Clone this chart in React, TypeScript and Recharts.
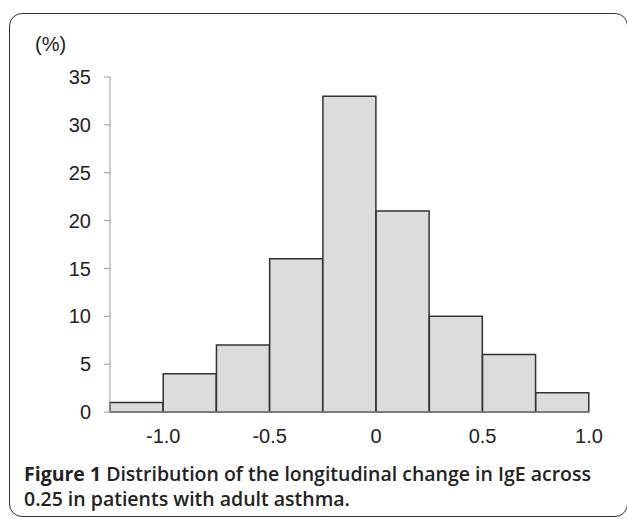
import { BarChart, Bar, XAxis, YAxis } from 'recharts'

// bins of width 0.25 from -1.25 to 1.0
const binStarts = [-1.25, -1.0, -0.75, -0.5, -0.25, 0, 0.25, 0.5, 0.75]
const percents = [1, 4, 7, 16, 33, 21, 10, 6, 2]
const xTicks = [-1.0, -0.5, 0, 0.5, 1.0]
const yTicks = [0, 5, 10, 15, 20, 25, 30, 35]

const data = binStarts.map((start, i) => ({ bin: String(start), start, pct: percents[i] }))

const tickFont = { fontSize: 20, fontFamily: 'Liberation Sans, Arial', fill: '#222' }

const captionStyle = {
  position: 'absolute' as const, left: 24, height: 22, whiteSpace: 'nowrap' as const,
  fontFamily: 'Open Sans', fontSize: 19.5, fontWeight: 600, lineHeight: '22px', color: '#222',
}

function formatX(v: number) {
  return v === 0 ? '0' : v.toFixed(1)
}

export default function App() {
  return (
    <div style={{ position: 'absolute', left: 0, top: 0, width: 627, height: 519, overflow: 'hidden', background: '#fff' }}>
      {/* frame, open on the right */}
      <div
        style={{
          position: 'absolute', left: 9, top: 13, width: 619, height: 504, boxSizing: 'border-box',
          border: '1.5px solid #333', borderRadius: 13,
        }}
      />
      <div style={{ position: 'absolute', left: 35, top: 33, fontSize: 20, fontFamily: 'Liberation Sans, Arial', color: '#222' }}>
        (%)
      </div>
      <div style={{ position: 'absolute', left: 0, top: 0 }}>
        <BarChart
          width={627}
          height={452}
          data={data}
          barCategoryGap={0}
          margin={{ top: 77, right: 38, left: 50, bottom: 10 }}
        >
          <XAxis xAxisId="cat" dataKey="bin" hide height={0} />
          <XAxis
            xAxisId="num"
            dataKey="start"
            type="number"
            domain={[-1.25, 1.0]}
            allowDataOverflow
            ticks={xTicks}
            tickFormatter={formatX}
            tick={tickFont}
            tickSize={0}
            tickMargin={17}
            height={30}
            axisLine={{ stroke: '#999' }}
          />
          <YAxis
            domain={[0, 35]}
            ticks={yTicks}
            tick={tickFont}
            tickSize={6}
            tickMargin={13}
            width={60}
            axisLine={{ stroke: '#999' }}
            tickLine={{ stroke: '#999' }}
          />
          <Bar
            xAxisId="cat"
            dataKey="pct"
            fill="#dcdcdc"
            stroke="#333"
            strokeWidth={1.5}
            isAnimationActive={false}
          />
        </BarChart>
      </div>
      <div style={{ ...captionStyle, top: 463 }}>
        <span style={{ fontWeight: 700 }}>Figure 1</span> Distribution of the longitudinal change in IgE across
      </div>
      <div style={{ ...captionStyle, top: 488 }}>
        0.25 in patients with adult asthma.
      </div>
    </div>
  )
}
